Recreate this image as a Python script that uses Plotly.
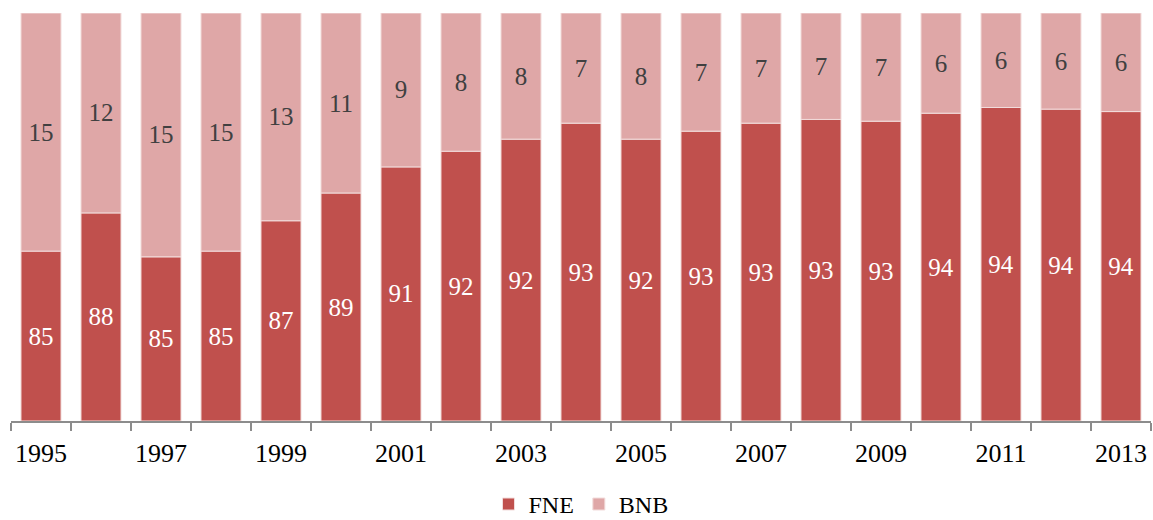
import plotly.graph_objects as go

years = list(range(1995, 2014))
fne = [85.41, 87.75, 85.06, 85.41, 87.27, 88.97, 90.57, 91.53, 92.27, 93.25,
       92.27, 92.76, 93.25, 93.48, 93.37, 93.86, 94.21, 94.11, 93.96]
bnb = [14.59, 12.25, 14.94, 14.59, 12.73, 11.03, 9.43, 8.47, 7.73, 6.75,
       7.73, 7.24, 6.75, 6.52, 6.63, 6.14, 5.79, 5.89, 6.04]
tick_years = list(range(1995, 2014, 2))
axis_min = 75

FONT = "Liberation Serif, Times New Roman, serif"
FS = 25

fig = go.Figure()
fig.add_trace(go.Bar(
    x=years, y=[v - axis_min for v in fne], base=[axis_min] * len(fne), name="FNE",
    text=[f"{v:.0f}" for v in fne], texttemplate="%{text}",
    marker=dict(color="#C0504D", line=dict(color="#F2DCDB", width=1)),
    textposition="inside", insidetextanchor="middle",
    textangle=0, textfont=dict(family=FONT, size=FS, color="white"),
    constraintext="none",
))
fig.add_trace(go.Bar(
    x=years, y=bnb, base=fne, name="BNB",
    text=[f"{v:.0f}" for v in bnb], texttemplate="%{text}",
    marker=dict(color="#DFA7A7", line=dict(color="#F2DCDB", width=1)),
    textposition="inside", insidetextanchor="middle",
    textangle=0, textfont=dict(family=FONT, size=FS, color="#404040"),
    constraintext="none",
))

fig.update_layout(
    barmode="overlay", bargap=0.333,
    width=1153, height=520,
    margin=dict(l=11, r=2, t=13, b=99),
    paper_bgcolor="white", plot_bgcolor="white",
    font=dict(family=FONT, size=FS, color="black"),
    showlegend=True,
    legend=dict(orientation="h", x=0.5, xanchor="center",
                yref="container", y=0.03, yanchor="middle",
                font=dict(family=FONT, size=24, color="black"),
                itemwidth=30, traceorder="normal"),
    uniformtext=dict(mode=False),
)
fig.update_xaxes(
    range=[1994.5, 2013.5], tickvals=tick_years, ticktext=[str(y) for y in tick_years],
    ticks="outside", ticklen=8, tickcolor="rgba(0,0,0,0)", ticklabelstandoff=0,
    showline=True, linecolor="#8C8C8C", linewidth=2, showgrid=False,
    zeroline=False, automargin=False,
    tickfont=dict(family=FONT, size=26, color="black"),
    minor=dict(ticks="outside", tick0=1994.5, dtick=1, ticklen=8, tickcolor="#8C8C8C",
               tickwidth=2, showgrid=False),
)
fig.update_yaxes(range=[axis_min, 100], visible=False, showgrid=False)

fig.write_html("out.html")
